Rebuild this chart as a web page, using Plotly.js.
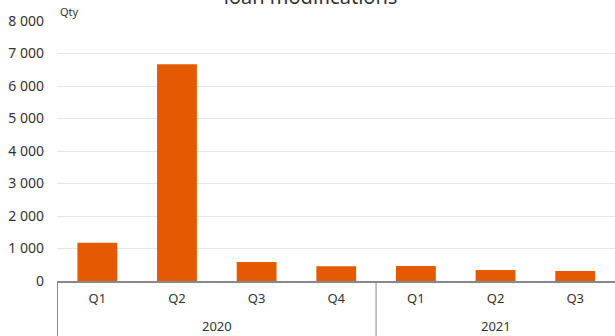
<!DOCTYPE html>
<html>
<head>
<meta charset="utf-8">
<script src="https://cdn.plot.ly/plotly-3.0.1.min.js"></script>
<style>html,body{margin:0;padding:0;background:#fff;}#chart{width:615px;height:336px;}</style>
</head>
<body>
<div id="chart"></div>
<script>
const years = ['2020','2020','2020','2020','2021','2021','2021'];
const quarters = ['Q1','Q2','Q3','Q4','Q1','Q2','Q3'];
const values = [1180, 6670, 585, 455, 460, 340, 310];
const yTicks = [0,1000,2000,3000,4000,5000,6000,7000,8000];

// unique category keys built from the two label arrays
const keys = years.map((y, i) => y + ' ' + quarters[i]);

// year groups: start/end category index
const groups = [];
years.forEach((y, i) => {
  const g = groups[groups.length - 1];
  if (g && g.year === y) g.end = i; else groups.push({year: y, start: i, end: i});
});

const trace = {
  type: 'bar',
  x: keys,
  y: values,
  marker: {color: '#e35a00'},
  hoverinfo: 'y'
};

const annotations = [{
  text: 'Qty', xref: 'paper', yref: 'paper', x: 0, y: 1, xanchor: 'left', yanchor: 'bottom',
  xshift: 1, showarrow: false, font: {size: 11, color: '#333'}
}];
const shapes = [];
groups.forEach(g => {
  annotations.push({
    text: g.year, xref: 'x', yref: 'paper', x: (g.start + g.end) / 2, y: 0,
    yshift: -45, yanchor: 'middle', xanchor: 'center', showarrow: false,
    font: {size: 13, color: '#333'}
  });
  shapes.push({
    type: 'line', xref: 'x', yref: 'paper', x0: g.start - 0.5, x1: g.start - 0.5,
    y0: 0, y1: -0.25, line: {color: '#888', width: 1}
  });
});

const layout = {
  width: 615, height: 336,
  margin: {l: 57, r: 0, t: 21, b: 55},
  paper_bgcolor: '#fff', plot_bgcolor: '#fff',
  separators: '. ',
  font: {family: 'Noto Sans, sans-serif', color: '#333', size: 13},
  title: {text: 'loan modifications', x: 0.505, xanchor: 'center', yref: 'container', y: 0.988, yanchor: 'bottom', font: {size: 20, color: '#333'}},
  bargap: 0.5,
  showlegend: false,
  xaxis: {
    type: 'category',
    tickvals: keys, ticktext: quarters,
    showline: true, linecolor: '#888', linewidth: 1.5,
    ticks: '', showgrid: false,
    ticklabelstandoff: 5,
    tickfont: {size: 13, color: '#333'}
  },
  yaxis: {
    range: [0, 8000],
    tickvals: yTicks,
    tickformat: ',d',
    showgrid: true, gridcolor: '#e6e6e6', gridwidth: 1,
    zeroline: false, showline: false, ticks: '',
    ticklabelstandoff: 12,
    tickfont: {size: 14, color: '#333'}
  },
  annotations: annotations,
  shapes: shapes
};

Plotly.newPlot('chart', [trace], layout, {displayModeBar: false, staticPlot: true});
</script>
</body>
</html>
